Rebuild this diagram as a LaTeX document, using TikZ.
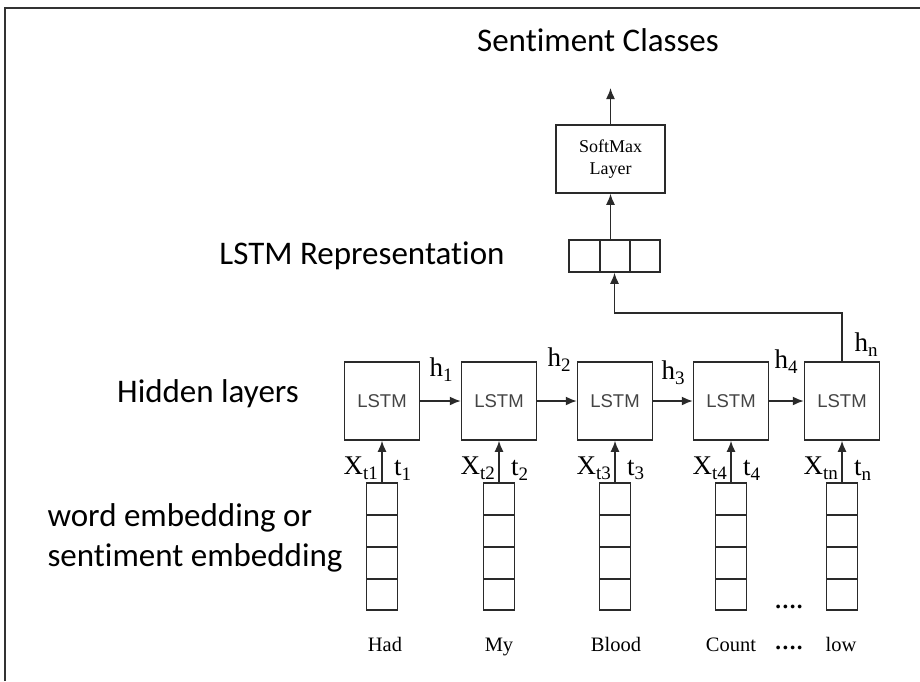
\documentclass[tikz,border=0pt]{standalone}
\usepackage{fontspec}
\setmainfont[Ligatures=NoCommon,Contextuals=NoAlternate,RawFeature=-liga]{Carlito}
\newfontfamily\serifface{Liberation Serif}
\newfontfamily\sansface{Liberation Sans}
\usetikzlibrary{arrows.meta}
\definecolor{ln}{HTML}{2A2A2A}
\definecolor{lstmtxt}{HTML}{444444}
\newcommand\subx[1]{\raisebox{-0.4ex}{\fontsize{19}{19}\selectfont #1}}
\tikzset{
  ln/.style={draw=ln, line width=1.5pt},
  arr/.style={ln, -{Latex[length=11pt,width=9pt]}},
  lstmbox/.style={ln, minimum width=75pt, minimum height=78pt, inner sep=0pt,
    font=\sansface\fontsize{18.5}{18.5}\selectfont, text=lstmtxt},
  embbox/.style={ln, minimum width=31pt, minimum height=127pt, inner sep=0pt},
  biglabel/.style={font=\fontsize{33}{35}\selectfont, text=black},
  hlabel/.style={font=\serifface\fontsize{27}{27}\selectfont, inner sep=0pt},
  wlabel/.style={font=\serifface\fontsize{20.5}{20.5}\selectfont, inner sep=0pt, anchor=base},
  dots/.style={font=\serifface\bfseries\fontsize{23}{23}\selectfont, inner sep=0pt, anchor=base},
}
\begin{document}
\begin{tikzpicture}[x=1pt,y=-1pt]
\useasboundingbox (0,0) rectangle (920,681);
% frame
\draw[draw=black!80, line width=2pt] (5,681) -- (5,8) -- (920,8);
% title and left labels
\node[biglabel] (title) at (598,40) {Sentiment Classes};
\node[biglabel] (replab) at (362,256) {LSTM Representation};
\node[biglabel] (hidlab) at (208,394) {Hidden layers};
\node[biglabel, anchor=west] (emb1) at (44,518) {word embedding or};
\node[biglabel, anchor=west] (emb2) at (44,558) {sentiment embedding};
% softmax
\node[ln, minimum width=109pt, minimum height=68pt, inner sep=0pt, align=center,
  font=\serifface\fontsize{18}{22}\selectfont] (S) at (610.5,159) {SoftMax\\Layer};
\coordinate (out) at (610.5,88);
\draw[arr] (S.north) -- (out);
% representation
\node[ln, minimum width=91pt, minimum height=32pt, inner sep=0pt] (R) at (614.5,256) {};
\draw[ln] (600,240) -- (600,272) (630,240) -- (630,272);
\draw[arr] (R.north -| S.south) -- (S.south);
% LSTM boxes
\foreach \i/\x in {1/382,2/499,3/615,4/731,5/842}{
  \node[lstmbox] (L\i) at (\x,401) {LSTM};
  \node[embbox] (E\i) at (\x,546.5) {};
  \draw[ln] (\x-15.5,515) -- (\x+15.5,515)
            (\x-15.5,547) -- (\x+15.5,547)
            (\x-15.5,579) -- (\x+15.5,579);
  \draw[arr] (E\i.north) -- (L\i.south);
}
\foreach \i/\j in {1/2,2/3,3/4,4/5}{
  \draw[arr] (L\i.east) -- (L\j.west);
}
\coordinate (turn) at (842,313);
\draw[arr] (L5.north) -- (turn) -- (turn -| R.south) -- (R.south);
% h labels
\node[hlabel] (h1) at (441,370) {h\subx{1}};
\node[hlabel] (h2) at (559,360) {h\subx{2}};
\node[hlabel] (h3) at (673,373) {h\subx{3}};
\node[hlabel] (h4) at (786,362) {h\subx{4}};
\node[hlabel] (hn) at (866,345) {h\subx{n}};
% x and t labels
\foreach \i/\x/\s in {1/382/1,2/499/2,3/615/3,4/731/4,5/842/n}{
  \node[hlabel, anchor=east] (X\i) at (\x-4,468) {X\subx{t\s}};
  \node[hlabel, anchor=west] (T\i) at (\x+12,470) {t\subx{\s}};
}
% words
\node[wlabel] (w1) at (385,651) {Had};
\node[wlabel] (w2) at (499,651) {My};
\node[wlabel] (w3) at (616,651) {Blood};
\node[wlabel] (w4) at (731,651) {Count};
\node[wlabel] (w5) at (841,651) {low};
\node[dots] (d1) at (789,649) {.\kern1.5pt.\kern1.5pt.\kern1.5pt.};
\node[dots] (d2) at (789,608) {.\kern1.5pt.\kern1.5pt.\kern1.5pt.};
\end{tikzpicture}
\end{document}
